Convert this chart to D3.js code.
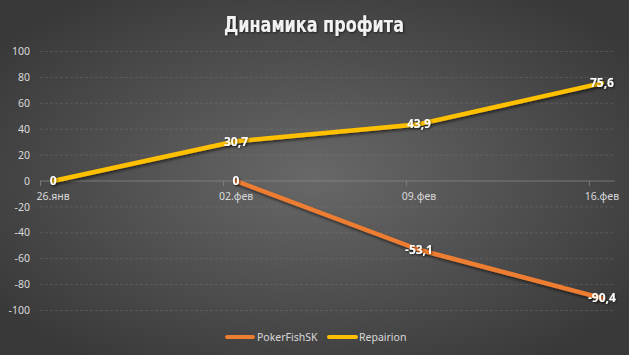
<!DOCTYPE html>
<html><head><meta charset="utf-8">
<script src="https://cdn.jsdelivr.net/npm/d3@7"></script>
<style>html,body{margin:0;padding:0;background:#3a3a3a;}svg{display:block;}</style>
</head><body><svg id="c" width="629" height="355"></svg>
<script>
const title = "Динамика профита";
const categories = ["26.янв", "02.фев", "09.фев", "16.фев"];
const categoryDays = [0, 7, 14, 21];
const pokerFishSK = [null, 0, -53.1, -90.4];
const repairion = [0, 30.7, 43.9, 75.6];
const yTicks = [100, 80, 60, 40, 20, 0, -20, -40, -60, -80, -100];
const seriesNames = ["PokerFishSK", "Repairion"];
const seriesColors = ["#ED7D31", "#FFC000"];

const svg = d3.select("#c");
const W = 629, H = 355;
const defs = svg.append("defs");
const rg = defs.append("radialGradient").attr("id","bg").attr("cx","50%").attr("cy","50%").attr("r","62%");
rg.append("stop").attr("offset","0%").attr("stop-color","#686868");
rg.append("stop").attr("offset","100%").attr("stop-color","#393939");
const f = defs.append("filter").attr("id","sh").attr("x","-20%").attr("y","-20%").attr("width","140%").attr("height","140%");
f.append("feDropShadow").attr("dx",1).attr("dy",2).attr("stdDeviation",1.5).attr("flood-color","#000").attr("flood-opacity",0.55);
const ft = defs.append("filter").attr("id","tsh").attr("x","-20%").attr("y","-20%").attr("width","140%").attr("height","140%");
ft.append("feDropShadow").attr("dx",1).attr("dy",1).attr("stdDeviation",1).attr("flood-color","#000").attr("flood-opacity",0.6);

svg.append("rect").attr("width",W).attr("height",H).attr("fill","url(#bg)");

const x = d3.scaleLinear().domain([0,22]).range([40,615]);
const y = d3.scaleLinear().domain([-100,100]).range([310.5,51.5]);
const px = i => x(categoryDays[i] + 0.5);

// gridlines
svg.append("g").selectAll("line").data(yTicks.filter(v=>v!==0)).join("line")
  .attr("x1",40).attr("x2",615).attr("y1",d=>y(d)).attr("y2",d=>y(d))
  .attr("stroke","#808080").attr("stroke-width",0.75).attr("stroke-dasharray","3,2").attr("opacity",0.45);

// y labels
svg.append("g").selectAll("text").data(yTicks).join("text")
  .attr("x",30).attr("y",d=>y(d)).attr("dy","0.35em").attr("text-anchor","end")
  .attr("font-family","Noto Sans, sans-serif").attr("font-size",10.5).attr("fill","#d9d9d9")
  .text(d=>d3.format("d")(d).replace("−","-"));

// zero axis
const xAxis = d3.axisBottom(x).tickValues([...categoryDays, 22]).tickSize(5).tickFormat("");
const ax = svg.append("g").attr("transform",`translate(0,${y(0)})`).call(xAxis);
ax.selectAll("path,line").attr("stroke","#8a8a8a").attr("stroke-width",0.75);
ax.select("path").attr("d",`M40,0H615`);
ax.selectAll(".tick").filter(d=>d===22).remove();

svg.append("g").selectAll("text").data(categories).join("text")
  .attr("x",(d,i)=>px(i)).attr("y",y(0)+19).attr("text-anchor","middle")
  .attr("font-family","Noto Sans, sans-serif").attr("font-size",10.5).attr("fill","#d9d9d9")
  .text(d=>d);

// lines
const seriesData = [pokerFishSK, repairion];
const line = d3.line().defined(d=>d.v!==null).x(d=>px(d.i)).y(d=>y(d.v));
seriesData.forEach((s,k)=>{
  const pts = s.map((v,i)=>({v,i}));
  svg.append("path").datum(pts).attr("d",line).attr("fill","none")
    .attr("stroke",seriesColors[k]).attr("stroke-width",4.5).attr("stroke-linecap","round").attr("stroke-linejoin","round")
    .attr("filter","url(#sh)");
});
const fmt = v => (v===0 ? "0" : d3.format(".1f")(v).replace(".",",").replace("−","-"));
seriesData.forEach((s,k)=>{
  svg.append("g").selectAll("text").data(s.map((v,i)=>({v,i})).filter(d=>d.v!==null)).join("text")
    .attr("x",d=>px(d.i)).attr("y",d=>y(d.v)).attr("dy","0.36em").attr("text-anchor","middle")
    .attr("font-family","Noto Sans, sans-serif").attr("font-weight","bold").attr("font-size",12).attr("fill","#ffffff")
    .attr("filter","url(#tsh)")
    .text(d=>fmt(d.v));
});

// title
svg.append("text").attr("x",314).attr("y",32).attr("text-anchor","middle")
  .attr("textLength",180).attr("lengthAdjust","spacingAndGlyphs")
  .attr("font-family","DejaVu Sans Condensed, DejaVu Sans, sans-serif").attr("font-weight","bold").attr("font-size",21)
  .attr("fill","#f2f2f2").attr("filter","url(#tsh)").text(title);

// legend
const leg = [{x1:227,x2:253,tx:257},{x1:329,x2:356,tx:359}];
leg.forEach((l,k)=>{
  svg.append("line").attr("x1",l.x1).attr("x2",l.x2).attr("y1",337).attr("y2",337)
    .attr("stroke",seriesColors[k]).attr("stroke-width",4).attr("stroke-linecap","round");
  svg.append("text").attr("x",l.tx).attr("y",337).attr("dy","0.35em")
    .attr("font-family","Noto Sans, sans-serif").attr("font-size",10.5).attr("fill","#d9d9d9").text(seriesNames[k]);
});
</script></body></html>
